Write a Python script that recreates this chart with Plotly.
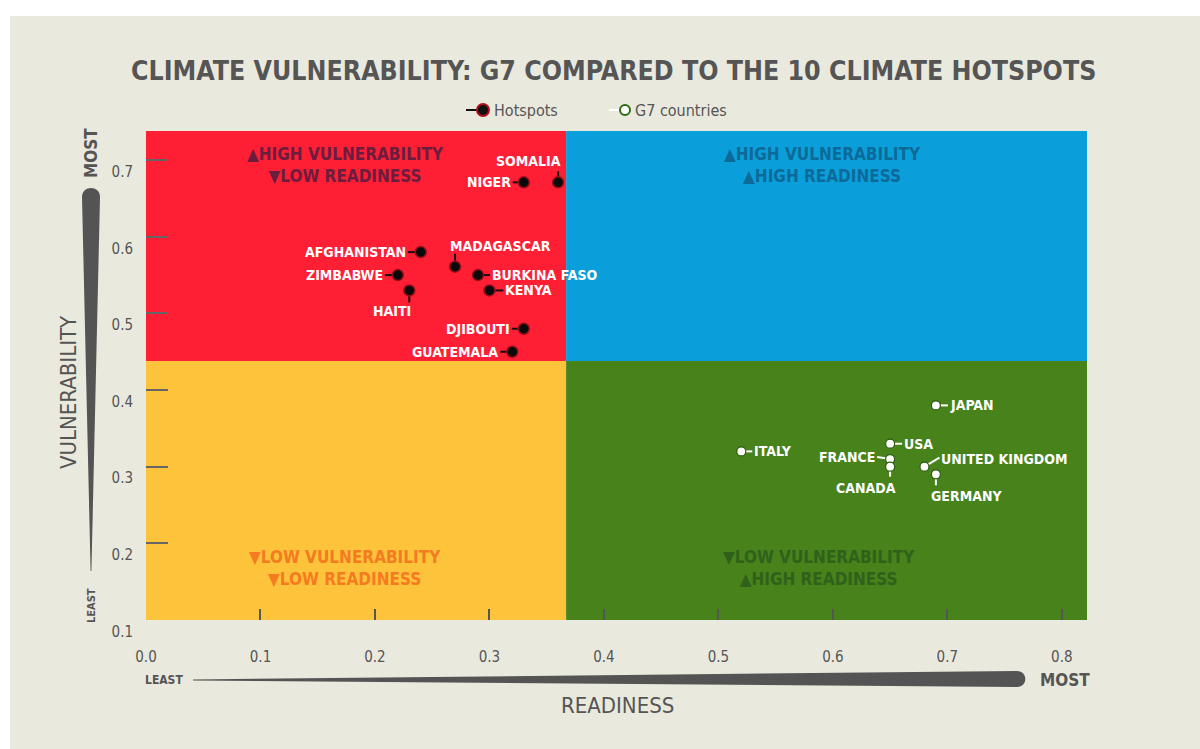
import plotly.graph_objects as go

# ---------------- data ----------------
TITLE = "CLIMATE VULNERABILITY: G7 COMPARED TO THE 10 CLIMATE HOTSPOTS"

hot_names = ["SOMALIA", "NIGER", "AFGHANISTAN", "MADAGASCAR", "ZIMBABWE",
             "BURKINA FASO", "KENYA", "HAITI", "DJIBOUTI", "GUATEMALA"]
hot_readiness = [0.36, 0.33, 0.24, 0.27, 0.22, 0.29, 0.30, 0.23, 0.33, 0.32]
hot_vulnerability = [0.671, 0.671, 0.580, 0.561, 0.550, 0.550, 0.530, 0.530, 0.480, 0.450]

g7_names = ["JAPAN", "ITALY", "USA", "FRANCE", "CANADA", "UNITED KINGDOM", "GERMANY"]
g7_readiness = [0.69, 0.52, 0.65, 0.65, 0.65, 0.68, 0.69]
g7_vulnerability = [0.38, 0.32, 0.33, 0.31, 0.30, 0.30, 0.29]

x_ticks = [0.0, 0.1, 0.2, 0.3, 0.4, 0.5, 0.6, 0.7, 0.8]
y_ticks = [0.1, 0.2, 0.3, 0.4, 0.5, 0.6, 0.7]
x_range = [0.0, 0.822]
y_range = [0.1, 0.738]
split_readiness = 0.367
split_vulnerability = 0.438

quadrant_text = [
    "▲HIGH VULNERABILITY<br>▼LOW READINESS",
    "▲HIGH VULNERABILITY<br>▲HIGH READINESS",
    "▼LOW VULNERABILITY<br>▼LOW READINESS",
    "▼LOW VULNERABILITY<br>▲HIGH READINESS",
]

# ---------------- styles / layout ----------------
W, H = 1200, 749
ML, MR, MT, MB = 146, 113, 131, 129
PW, PH = W - ML - MR, H - MT - MB
FONT = "Liberation Sans Narrow, DejaVu Sans Condensed, Arial Narrow, sans-serif"
GREY = "#555555"
BEIGE = "#EAE9DE"
RED, BLUE, YELLOW, GREEN = "#FF1F35", "#0A9FDA", "#FDC43B", "#47821A"
QTXT = ["#6B1D3E", "#0D6A98", "#F47B20", "#30611A"]


def px(xp):  # page pixel -> paper x
    return (xp - ML) / PW


def py(yp):  # page pixel -> paper y
    return (H - MB - yp) / PH


# label placement: (leader end dx, dy), (text dx, dy), anchor  -- screen px, y down
LABEL_POS = {
    "SOMALIA": ((0, -11), (5, -21), "right"),
    "NIGER": ((-11, 0), (-11, 0), "right"),
    "AFGHANISTAN": ((-13, 0), (-13, 0), "right"),
    "MADAGASCAR": ((0, -13), (-7, -21), "left"),
    "ZIMBABWE": ((-13, 0), (-13, 0), "right"),
    "BURKINA FASO": ((12, 0), (12, 0), "left"),
    "KENYA": ((14, 0), (14, 0), "left"),
    "HAITI": ((0, 12), (4, 21), "right"),
    "DJIBOUTI": ((-12, 0), (-12, 0), "right"),
    "GUATEMALA": ((-12, 0), (-12, 0), "right"),
    "JAPAN": ((12, 0), (12, 0), "left"),
    "ITALY": ((11, 0), (11, 0), "left"),
    "USA": ((12, 0), (12, 0), "left"),
    "FRANCE": ((-13, -2), (-13, -2), "right"),
    "CANADA": ((0, 10), (8, 21), "right"),
    "UNITED KINGDOM": ((15, -9), (15, -8), "left"),
    "GERMANY": ((0, 11), (-7, 22), "left"),
}

fig = go.Figure()

shapes = []
# card background strips (white page border)
shapes.append(dict(type="rect", xref="paper", yref="paper", x0=px(-5), x1=px(W + 5),
                   y0=py(16), y1=py(-5), fillcolor="white", line_width=0, layer="below"))
shapes.append(dict(type="rect", xref="paper", yref="paper", x0=px(-5), x1=px(10),
                   y0=py(H + 5), y1=py(-5), fillcolor="white", line_width=0, layer="below"))

# quadrants
quads = [
    (x_range[0], split_readiness, split_vulnerability, y_range[1], RED),
    (split_readiness, x_range[1], split_vulnerability, y_range[1], BLUE),
    (x_range[0], split_readiness, y_range[0], split_vulnerability, YELLOW),
    (split_readiness, x_range[1], y_range[0], split_vulnerability, GREEN),
]
for x0, x1, y0, y1, c in quads:
    shapes.append(dict(type="rect", xref="x", yref="y", x0=x0, x1=x1, y0=y0, y1=y1,
                       fillcolor=c, line_width=0, layer="below"))


# leader lines
def leaders(names, xs, ys, color):
    for n, x, y in zip(names, xs, ys):
        (lx, ly), _, _ = LABEL_POS[n]
        shapes.append(dict(type="line", xref="x", yref="y", xsizemode="pixel", ysizemode="pixel",
                           xanchor=x, yanchor=y, x0=0, y0=0, x1=lx, y1=-ly,
                           line=dict(color=color, width=2), layer="below"))


leaders(hot_names, hot_readiness, hot_vulnerability, "#111111")
leaders(g7_names, g7_readiness, g7_vulnerability, "white")

# wedges (axis glyphs)
yw = (f"M {px(82)},{py(197)} L {px(90.6)},{py(571)} L {px(91.4)},{py(571)} L {px(100)},{py(197)} "
      f"C {px(100)},{py(185)} {px(82)},{py(185)} {px(82)},{py(197)} Z")
xw = (f"M {px(193)},{py(679.4)} L {px(1017)},{py(671)} "
      f"C {px(1028)},{py(671)} {px(1028)},{py(687)} {px(1017)},{py(687)} "
      f"L {px(193)},{py(680.6)} Z")
for p in (yw, xw):
    shapes.append(dict(type="path", xref="paper", yref="paper", path=p,
                       fillcolor="#545454", line_width=0))

# custom legend
shapes.append(dict(type="line", xref="paper", yref="paper", x0=px(466), x1=px(479),
                   y0=py(110), y1=py(110), line=dict(color="#111111", width=2)))
shapes.append(dict(type="circle", xref="paper", yref="paper", xsizemode="pixel", ysizemode="pixel",
                   xanchor=px(483), yanchor=py(110), x0=-6, x1=6, y0=-6, y1=6,
                   fillcolor="#111111", line=dict(color="#B0101E", width=2)))
shapes.append(dict(type="line", xref="paper", yref="paper", x0=px(609), x1=px(621),
                   y0=py(110), y1=py(110), line=dict(color="white", width=2)))
shapes.append(dict(type="circle", xref="paper", yref="paper", xsizemode="pixel", ysizemode="pixel",
                   xanchor=px(625), yanchor=py(110), x0=-5, x1=5, y0=-5, y1=5,
                   fillcolor="white", line=dict(color="#2D6A12", width=2)))

# data traces
fig.add_trace(go.Scatter(x=hot_readiness, y=hot_vulnerability, mode="markers", name="Hotspots",
                         text=hot_names, hoverinfo="text+x+y",
                         marker=dict(size=11, color="#0A0A0A", line=dict(color="#9B0D1A", width=1.5))))
fig.add_trace(go.Scatter(x=g7_readiness, y=g7_vulnerability, mode="markers", name="G7 countries",
                         text=g7_names, hoverinfo="text+x+y",
                         marker=dict(size=9, color="white", line=dict(color="#2D5A12", width=1.2))))

annotations = []


def labels(names, xs, ys):
    for n, x, y in zip(names, xs, ys):
        _, (tx, ty), anc = LABEL_POS[n]
        annotations.append(dict(x=x, y=y, xref="x", yref="y", text=n, showarrow=False,
                                xanchor=anc, yanchor="middle", xshift=tx, yshift=-ty,
                                font=dict(family=FONT, size=14, color="white", weight="bold")))


labels(hot_names, hot_readiness, hot_vulnerability)
labels(g7_names, g7_readiness, g7_vulnerability)

# quadrant texts
qpos = [(345, 165), (822, 165), (345, 568), (819, 568)]
for (qx, qy), t, c in zip(qpos, quadrant_text, QTXT):
    annotations.append(dict(x=px(qx), y=py(qy), xref="paper", yref="paper", text=t,
                            showarrow=False, xanchor="center", yanchor="middle", align="center",
                            font=dict(family=FONT, size=17, color=c, weight="bold")))

# title
annotations.append(dict(x=px(613), y=py(70), xref="paper", yref="paper", text=TITLE,
                        showarrow=False, xanchor="center", yanchor="middle",
                        font=dict(family=FONT, size=26.5, color=GREY, weight="bold")))
# legend texts
annotations.append(dict(x=px(492), y=py(110), xref="paper", yref="paper", text="Hotspots",
                        showarrow=False, xanchor="left", yanchor="middle",
                        font=dict(family=FONT, size=16, color=GREY)))
annotations.append(dict(x=px(633), y=py(110), xref="paper", yref="paper", text="G7 countries",
                        showarrow=False, xanchor="left", yanchor="middle",
                        font=dict(family=FONT, size=16, color=GREY)))
# axis titles
annotations.append(dict(x=px(68), y=py(392), xref="paper", yref="paper", text="VULNERABILITY",
                        showarrow=False, textangle=-90, xanchor="center", yanchor="middle",
                        font=dict(family=FONT, size=22, color=GREY)))
annotations.append(dict(x=px(617), y=py(705), xref="paper", yref="paper", text="READINESS",
                        showarrow=False, xanchor="center", yanchor="middle",
                        font=dict(family=FONT, size=22, color=GREY)))
# wedge end labels
annotations.append(dict(x=px(91), y=py(153), xref="paper", yref="paper", text="MOST",
                        showarrow=False, textangle=-90, xanchor="center", yanchor="middle",
                        font=dict(family=FONT, size=17, color=GREY, weight="bold")))
annotations.append(dict(x=px(91), y=py(606), xref="paper", yref="paper", text="LEAST",
                        showarrow=False, textangle=-90, xanchor="center", yanchor="middle",
                        font=dict(family=FONT, size=11, color=GREY, weight="bold")))
annotations.append(dict(x=px(164), y=py(680), xref="paper", yref="paper", text="LEAST",
                        showarrow=False, xanchor="center", yanchor="middle",
                        font=dict(family=FONT, size=12, color=GREY, weight="bold")))
annotations.append(dict(x=px(1065), y=py(680), xref="paper", yref="paper", text="MOST",
                        showarrow=False, xanchor="center", yanchor="middle",
                        font=dict(family=FONT, size=17, color=GREY, weight="bold")))

fig.update_layout(
    width=W, height=H,
    margin=dict(l=ML, r=MR, t=MT, b=MB, pad=0),
    paper_bgcolor=BEIGE, plot_bgcolor=BEIGE,
    showlegend=False,
    shapes=shapes, annotations=annotations,
    hovermode="closest",
)
fig.update_xaxes(range=x_range, tickvals=x_ticks, tickformat=".1f", showgrid=False, zeroline=False,
                 showline=False, ticks="inside", ticklen=11, tickwidth=2, tickcolor=GREY,
                 ticklabelstandoff=26, tickfont=dict(family=FONT, size=15, color=GREY))
fig.update_yaxes(range=y_range, tickvals=y_ticks, tickformat=".1f", showgrid=False, zeroline=False,
                 showline=False, ticks="inside", ticklen=22, tickwidth=2, tickcolor="#666666",
                 ticklabelposition="outside bottom", ticklabelstandoff=12,
                 tickfont=dict(family=FONT, size=15, color=GREY))

fig.write_html("out.html", config={"displayModeBar": False},
               post_script="document.body.style.margin='0';")
